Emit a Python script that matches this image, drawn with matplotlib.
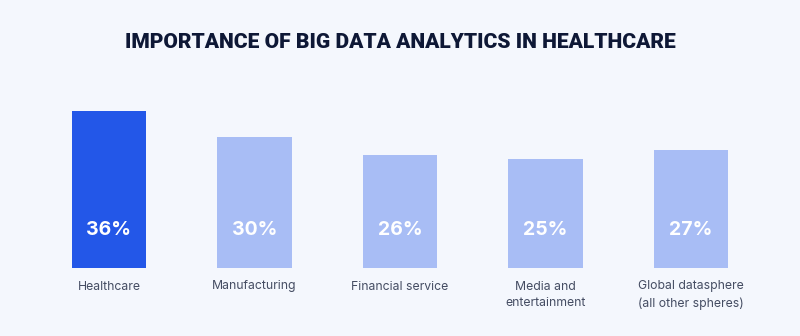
import matplotlib
matplotlib.use("Agg")
import matplotlib.pyplot as plt
from matplotlib.transforms import blended_transform_factory

categories = ["Healthcare", "Manufacturing", "Financial service",
              "Media and\nentertainment", "Global datasphere\n(all other spheres)"]
values = [36, 30, 26, 25, 27]
labels = ["36%", "30%", "26%", "25%", "27%"]
title = "IMPORTANCE OF BIG DATA ANALYTICS IN HEALTHCARE"

bg = "#F4F7FD"
dark = "#2357E8"
light = "#A8BDF5"

fig = plt.figure(figsize=(8, 3.36), dpi=100, facecolor=bg)
ax = fig.add_axes([0, 68/336, 1, 200/336])
ax.set_facecolor(bg)
x = list(range(len(values)))
colors = [dark] + [light] * (len(values) - 1)
ax.bar(x, values, width=0.51, color=colors)
ax.set_xlim(-0.749, len(values) - 1 + 0.749)
ax.set_ylim(0, 200 / (157 / 36))
ax.axis("off")

for xi, lab in zip(x, labels):
    ax.text(xi, 8.8, lab, ha="center", va="center", color="white",
            fontsize=14, fontweight="bold", family="Inter")

trans = blended_transform_factory(ax.transData, fig.transFigure)
for xi, cat in zip(x, categories):
    ax.text(xi, 1 - 280.5/336, cat, ha="center", va="top", color="#454D63",
            fontsize=8.8, family="Inter", transform=trans, linespacing=1.55)

fig.text(0.5, 1 - 42/336, title, ha="center", va="center", color="#0E1836",
         fontsize=15.1, fontweight="heavy", family="Roboto")

fig.savefig("out.png", dpi=100, facecolor=bg)
